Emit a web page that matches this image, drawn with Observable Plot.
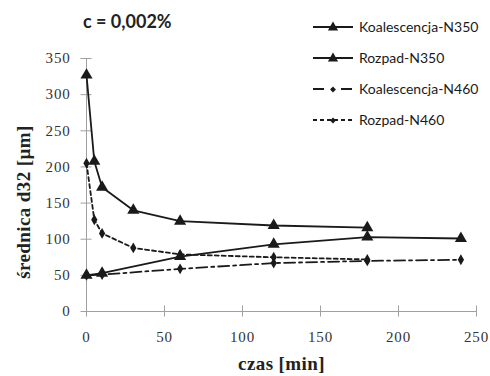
<!DOCTYPE html>
<html>
<head>
<meta charset="utf-8">
<script src="https://cdn.jsdelivr.net/npm/d3@7"></script>
<script src="https://cdn.jsdelivr.net/npm/@observablehq/plot@0.6"></script>
<style>
  html, body { margin: 0; padding: 0; background: #fff; }
  #wrap { position: relative; width: 490px; height: 376px; overflow: hidden; }
  #title { position: absolute; left: 83px; top: 10px; font-family: Lato, "Liberation Sans", sans-serif; font-weight: 700; font-size: 18px; color: #222; }
  #legend { position: absolute; left: 312px; top: 11px; font-family: Lato, "Liberation Sans", sans-serif; font-size: 14px; color: #1a1a1a; }
  .row { display: flex; align-items: center; height: 31px; }
  .row svg { margin-right: 5px; }
</style>
</head>
<body>
<div id="wrap">
  <div id="chart"></div>
  <div id="title">c = 0,002%</div>
  <div id="legend"></div>
</div>
<script>
const seriesNames = ["Koalescencja-N350", "Rozpad-N350", "Koalescencja-N460", "Rozpad-N460"];

const koalN350_t = [0, 10, 60, 120, 180, 240];
const koalN350_d = [50, 53, 76, 93, 103, 101];

const rozpN350_t = [0, 5, 10, 30, 60, 120, 180];
const rozpN350_d = [327, 208, 172, 140, 125, 119, 116];

const koalN460_t = [0, 10, 60, 120, 180, 240];
const koalN460_d = [50, 51, 59, 67, 70, 71.5];

const rozpN460_t = [0, 5, 10, 30, 60, 120, 180];
const rozpN460_d = [205, 127, 108, 88, 79, 75, 72];

const xTicks = [0, 50, 100, 150, 200, 250];
const yTicks = [0, 50, 100, 150, 200, 250, 300, 350];
const xLabel = "czas [min]";
const yLabel = "średnica d32 [µm]";

const toRows = (t, d) => t.map((x, i) => ({t: x, d: d[i]}));
const kN350 = toRows(koalN350_t, koalN350_d);
const rN350 = toRows(rozpN350_t, rozpN350_d);
const kN460 = toRows(koalN460_t, koalN460_d);
const rN460 = toRows(rozpN460_t, rozpN460_d);

const ink = "#1a1a1a";
const axisGray = "#a0a0a0";
const styles = {
  "Koalescencja-N350": {dash: null, symbol: "triangle", r: 4.5},
  "Rozpad-N350": {dash: null, symbol: "triangle", r: 4.5},
  "Koalescencja-N460": {dash: "11,4,3,4", symbol: "diamond", r: 3.3},
  "Rozpad-N460": {dash: "4,3", symbol: "diamond", r: 3.3}
};
const dataBy = {
  "Koalescencja-N350": kN350,
  "Rozpad-N350": rN350,
  "Koalescencja-N460": kN460,
  "Rozpad-N460": rN460
};

const marks = [
  Plot.ruleY([0], {stroke: axisGray, strokeWidth: 1}),
  Plot.ruleX([0], {stroke: axisGray, strokeWidth: 1}),
  Plot.axisY({ticks: yTicks, tickSize: 0, tickPadding: 16, fontSize: 15,
    label: yLabel, labelAnchor: "center", labelArrow: false, labelOffset: 70}),
  Plot.axisY({ticks: yTicks, tickSize: 11, dx: 5.5, stroke: axisGray, tickFormat: () => "", label: null}),
  Plot.axisX({ticks: xTicks, tickSize: 0, tickPadding: 20, fontSize: 15,
    label: xLabel, labelAnchor: "center", labelArrow: false, labelOffset: 58}),
  Plot.axisX({ticks: xTicks, tickSize: 11, dy: -5.5, stroke: axisGray, tickFormat: () => "", label: null})
];
for (const name of seriesNames) {
  const s = styles[name];
  marks.push(Plot.line(dataBy[name], {x: "t", y: "d", stroke: ink, strokeWidth: 1.8, strokeDasharray: s.dash || undefined}));
}
for (const name of seriesNames) {
  const s = styles[name];
  marks.push(Plot.dot(dataBy[name], {x: "t", y: "d", symbol: s.symbol, r: s.r, fill: ink, stroke: "none"}));
}

const chart = Plot.plot({
  width: 490,
  height: 376,
  marginLeft: 86,
  marginRight: 14,
  marginTop: 58,
  marginBottom: 65,
  x: {domain: [0, 250]},
  y: {domain: [0, 350]},
  style: {background: "#fff", overflow: "visible"},
  marks
});
chart.querySelectorAll("text").forEach(t => {
  const isLabel = t.textContent === xLabel || t.textContent === yLabel;
  t.style.fontFamily = "'Liberation Serif', 'DejaVu Serif', serif";
  t.style.fontSize = isLabel ? "19px" : "15px";
  t.style.fontWeight = isLabel ? "bold" : "normal";
  t.style.letterSpacing = t.textContent === yLabel ? "0.4px" : (isLabel ? "0.4px" : "0.8px");
  t.style.fill = isLabel ? "#222" : "#333";
  if (t.textContent === yLabel) t.setAttribute("dx", "-17");
});
document.getElementById("chart").appendChild(chart);

// Legend
const legend = document.getElementById("legend");
for (const name of seriesNames) {
  const s = styles[name];
  const row = document.createElement("div");
  row.className = "row";
  const sym = s.symbol === "triangle" ? d3.symbolTriangle : d3.symbolDiamond2;
  const area = s.symbol === "triangle" ? 45 : 22;
  row.innerHTML = `<svg width="42" height="14"><line x1="1" x2="41" y1="7" y2="7" stroke="${ink}" stroke-width="1.8" ${s.dash ? `stroke-dasharray="${name === 'Koalescencja-N460' ? '11,7,3,7' : '4,3'}"` : ""}/><path transform="translate(21,7.5)" d="${d3.symbol(sym, area)()}" fill="${ink}"/></svg><span>${name}</span>`;
  legend.appendChild(row);
}
</script>
</body>
</html>
